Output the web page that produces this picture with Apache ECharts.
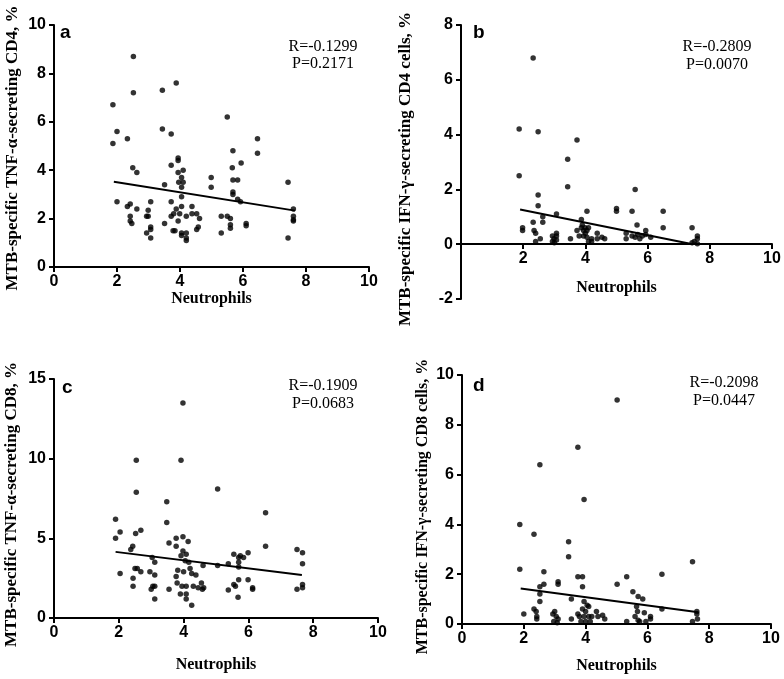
<!DOCTYPE html>
<html>
<head>
<meta charset="utf-8">
<script src="https://cdn.jsdelivr.net/npm/echarts@6/dist/echarts.min.js"></script>
<style>html,body{margin:0;padding:0;background:#fff}#c{width:784px;height:679px}</style>
</head>
<body>
<div id="c"></div>
<script>
var xTicks = [0, 2, 4, 6, 8, 10];
var xTitle = 'Neutrophils';
var yTitles = ['MTB-specific TNF-\u03b1-secreting CD4, %', 'MTB-specific IFN-\u03b3-secreting CD4 cells, %', 'MTB-specific TNF-\u03b1-secreting CD8, %', 'MTB-specific IFN-\u03b3-secreting CD8 cells, %'];
var panelLetters = ['a', 'b', 'c', 'd'];
var statsR = ['R=-0.1299', 'R=-0.2809', 'R=-0.1909', 'R=-0.2098'];
var statsP = ['P=0.2171', 'P=0.0070', 'P=0.0683', 'P=0.0447'];

var pointsA = [[1.87,6.7],[1.87,5.1],[2.0,5.6],[2.0,2.7],[2.33,5.3],[2.33,2.5],[2.42,2.6],[2.42,2.1],[2.42,1.9],[2.47,1.8],[2.52,8.7],[2.52,7.2],[2.5,4.1],[2.63,3.9],[2.63,2.4],[2.94,2.1],[2.99,2.1],[2.99,2.35],[2.94,1.4],[3.07,2.7],[3.07,1.65],[3.07,1.55],[3.07,1.2],[3.44,7.3],[3.44,5.7],[3.51,3.4],[3.51,1.8],[3.72,5.5],[3.72,4.2],[3.72,2.7],[3.72,2.1],[3.8,2.2],[3.78,1.5],[3.84,1.5],[3.88,7.6],[3.88,2.4],[3.94,4.5],[3.94,4.4],[3.94,3.9],[3.96,3.5],[3.94,1.9],[3.99,2.2],[4.05,3.7],[4.05,3.3],[4.05,2.9],[4.05,2.5],[4.05,1.4],[4.05,1.3],[4.1,4.0],[4.1,3.5],[4.2,2.1],[4.2,1.4],[4.2,1.2],[4.2,1.1],[4.38,2.5],[4.38,2.2],[4.53,2.2],[4.53,1.55],[4.58,1.65],[4.62,2.0],[4.99,3.7],[4.99,3.3],[5.31,2.1],[5.31,1.4],[5.5,6.2],[5.5,2.1],[5.6,2.0],[5.6,1.75],[5.6,1.6],[5.66,4.1],[5.68,4.8],[5.68,3.6],[5.68,3.1],[5.68,3.0],[5.83,3.6],[5.83,2.8],[5.92,2.7],[5.94,4.3],[6.1,1.8],[6.1,1.7],[6.46,5.3],[6.46,4.7],[7.43,3.5],[7.43,1.2],[7.6,2.4],[7.6,2.1],[7.6,1.95],[7.6,1.9]];
var pointsB = [[1.87,4.2],[1.87,2.5],[1.98,0.6],[1.98,0.5],[2.32,6.8],[2.32,0.8],[2.35,0.5],[2.4,0.4],[2.4,0.1],[2.48,4.1],[2.48,1.8],[2.48,1.4],[2.55,0.2],[2.63,1.0],[2.63,0.8],[2.94,0.3],[2.94,0.1],[2.99,0.2],[3.0,0.05],[3.07,1.1],[3.07,0.4],[3.07,0.3],[3.07,0.15],[3.43,3.1],[3.43,2.1],[3.52,0.2],[3.73,3.8],[3.73,0.5],[3.8,0.3],[3.87,0.9],[3.87,0.6],[3.9,0.7],[3.94,0.5],[3.94,0.3],[3.99,0.6],[4.0,0.4],[4.05,1.2],[4.05,0.5],[4.05,0.25],[4.1,0.6],[4.1,0.1],[4.2,0.2],[4.2,0.1],[4.38,0.4],[4.38,0.2],[4.53,0.25],[4.62,0.2],[5.0,1.3],[5.0,1.2],[5.31,0.4],[5.31,0.2],[5.5,1.2],[5.5,0.3],[5.6,2.0],[5.6,0.25],[5.66,0.7],[5.68,0.35],[5.75,0.2],[5.83,0.3],[5.94,0.5],[5.94,0.35],[6.1,0.25],[6.5,1.2],[6.5,0.6],[7.43,0.6],[7.43,0.05],[7.5,0.1],[7.6,0.3],[7.6,0.2],[7.6,0.02]];
var pointsC = [[1.9,6.2],[1.9,5.0],[2.04,5.4],[2.04,2.8],[2.37,4.3],[2.43,4.5],[2.44,2.5],[2.44,2.0],[2.52,5.3],[2.54,9.9],[2.54,7.9],[2.5,3.1],[2.57,3.1],[2.68,5.5],[2.68,2.9],[2.96,2.9],[3.0,1.8],[3.03,3.8],[3.05,2.0],[3.11,2.7],[3.11,3.5],[3.11,2.0],[3.11,1.2],[3.48,7.3],[3.48,6.0],[3.55,4.7],[3.55,1.8],[3.77,5.0],[3.77,4.5],[3.77,2.6],[3.8,2.2],[3.82,3.0],[3.9,1.5],[3.92,9.9],[3.92,3.9],[3.95,2.0],[3.98,13.5],[3.98,5.1],[3.98,4.2],[4.0,2.9],[4.05,3.6],[4.08,4.0],[4.08,2.0],[4.08,1.5],[4.08,1.2],[4.14,4.8],[4.16,3.5],[4.2,3.1],[4.25,2.8],[4.25,0.8],[4.3,2.0],[4.38,2.7],[4.45,1.9],[4.55,2.2],[4.58,1.8],[4.6,3.3],[4.62,1.9],[5.05,8.1],[5.05,3.3],[5.38,3.4],[5.38,1.75],[5.55,4.0],[5.55,2.1],[5.6,2.0],[5.68,1.3],[5.7,3.8],[5.7,3.5],[5.7,3.2],[5.7,2.4],[5.75,3.9],[5.85,3.8],[5.99,4.1],[5.99,2.4],[6.13,1.9],[6.13,1.8],[6.53,6.6],[6.53,4.5],[7.5,4.3],[7.5,1.8],[7.67,4.1],[7.67,3.4],[7.67,2.1],[7.67,1.9]];
var pointsD = [[1.87,4.0],[1.87,2.2],[2.0,0.4],[2.33,3.6],[2.33,0.6],[2.4,0.5],[2.42,0.3],[2.42,0.2],[2.52,6.4],[2.52,1.5],[2.52,1.2],[2.52,0.9],[2.65,2.1],[2.65,1.6],[2.94,0.4],[2.97,0.1],[3.0,0.5],[3.05,0.3],[3.08,0.05],[3.11,1.7],[3.11,1.6],[3.11,0.2],[3.45,3.3],[3.45,2.7],[3.54,1.0],[3.54,0.2],[3.75,7.1],[3.75,1.9],[3.75,0.4],[3.8,0.3],[3.85,0.1],[3.9,1.9],[3.9,1.5],[3.9,0.6],[3.95,5.0],[3.95,0.9],[3.95,0.3],[4.0,0.5],[4.0,0.1],[4.05,0.75],[4.1,0.7],[4.1,0.3],[4.15,0.1],[4.2,0.3],[4.35,0.5],[4.4,0.3],[4.55,0.35],[4.62,0.2],[5.02,9.0],[5.02,1.6],[5.33,1.9],[5.33,0.1],[5.53,1.3],[5.6,0.3],[5.65,0.7],[5.68,0.5],[5.7,1.1],[5.7,0.15],[5.75,0.1],[5.85,1.0],[5.9,0.45],[5.95,0.1],[6.1,0.3],[6.1,0.2],[6.47,2.0],[6.47,0.6],[7.46,2.5],[7.46,0.1],[7.6,0.5],[7.6,0.4],[7.62,0.2]];

var fitA = [[1.9,3.52],[7.65,2.33]];
var fitB = [[1.9,1.27],[7.45,0.0]];
var fitC = [[1.9,4.15],[7.65,2.7]];
var fitD = [[1.9,1.43],[7.65,0.47]];

var yRanges = [[0,10,2],[-2,8,2],[0,15,5],[0,10,2]];

var grids = [
  {left:54, top:25, width:315, height:242},
  {left:461, top:25, width:311, height:274},
  {left:54, top:379, width:324, height:239},
  {left:462, top:375, width:309, height:249}
];
var xOffsets = [0, -55, 0, 0];
var xNameGaps = [17, 36, 39, 34];
var yNameGaps = [33, 47, 34, 31];
var yNamePads = [[0,4,0,0],[0,14,0,0],[0,12,0,0],[0,14,0,0]];
var yNameSizes = [17, 17, 17, 16];
var annPos = [
  {letter:[66,35], r:[323,47], p:[323,64]},
  {letter:[479,35], r:[717,47], p:[717,65]},
  {letter:[68,390], r:[323,386], p:[323,404]},
  {letter:[479,388], r:[724,383], p:[724,401]}
];

var black = '#000';
var xAxes = [], yAxes = [], series = [], graphics = [];
var pts = [pointsA, pointsB, pointsC, pointsD];
var fits = [fitA, fitB, fitC, fitD];
for (var i = 0; i < 4; i++) {
  xAxes.push({
    gridIndex:i, type:'value', min:xTicks[0], max:xTicks[xTicks.length-1], interval:2,
    offset:xOffsets[i],
    name: xTitle, nameLocation:'middle', nameGap:xNameGaps[i],
    nameTextStyle:{fontFamily:'Liberation Serif', fontWeight:'bold', fontSize:16, color:black},
    axisLine:{show:true, onZero:false, lineStyle:{color:black, width:2}},
    axisTick:{show:true, length:5, lineStyle:{color:black, width:2}},
    axisLabel:{margin:7, fontFamily:'Liberation Sans', fontWeight:'bold', fontSize:16, color:black,
      formatter: (function(k){return function(v){ return (k===1 && v===0) ? '' : String(v); };})(i)},
    splitLine:{show:false}
  });
  yAxes.push({
    gridIndex:i, type:'value', min:yRanges[i][0], max:yRanges[i][1], interval:yRanges[i][2],
    name: yTitles[i], nameLocation:'middle', nameGap:yNameGaps[i],
    nameTextStyle:{fontFamily:'Liberation Serif', fontWeight:'bold', fontSize:yNameSizes[i], color:black, padding:yNamePads[i]},
    axisLine:{show:true, onZero:false, lineStyle:{color:black, width:2}},
    axisTick:{show:true, length:5, lineStyle:{color:black, width:2}},
    axisLabel:{margin:8, fontFamily:'Liberation Sans', fontWeight:'bold', fontSize:16, color:black},
    splitLine:{show:false}
  });
  series.push({type:'scatter', xAxisIndex:i, yAxisIndex:i, data:pts[i], symbol:'circle', symbolSize:5.5,
    itemStyle:{color:black}, silent:true});
  series.push({type:'line', xAxisIndex:i, yAxisIndex:i, data:fits[i], symbol:'none',
    lineStyle:{color:black, width:2}, silent:true});
  graphics.push({type:'text', left:annPos[i].letter[0]-6, top:annPos[i].letter[1]-12,
    style:{text:panelLetters[i], font:'bold 19px "Liberation Sans"', fill:black}});
  graphics.push({type:'text', x:annPos[i].r[0], y:annPos[i].r[1],
    style:{text:statsR[i], font:'16px "Liberation Serif"', fill:black, textAlign:'center', textVerticalAlign:'middle'}});
  graphics.push({type:'text', x:annPos[i].p[0], y:annPos[i].p[1],
    style:{text:statsP[i], font:'16px "Liberation Serif"', fill:black, textAlign:'center', textVerticalAlign:'middle'}});
}

var chart = echarts.init(document.getElementById('c'), null, {renderer:'canvas'});
chart.setOption({
  animation:false,
  backgroundColor:'#fff',
  grid:grids,
  xAxis:xAxes,
  yAxis:yAxes,
  series:series,
  graphic:graphics
});
</script>
</body>
</html>
